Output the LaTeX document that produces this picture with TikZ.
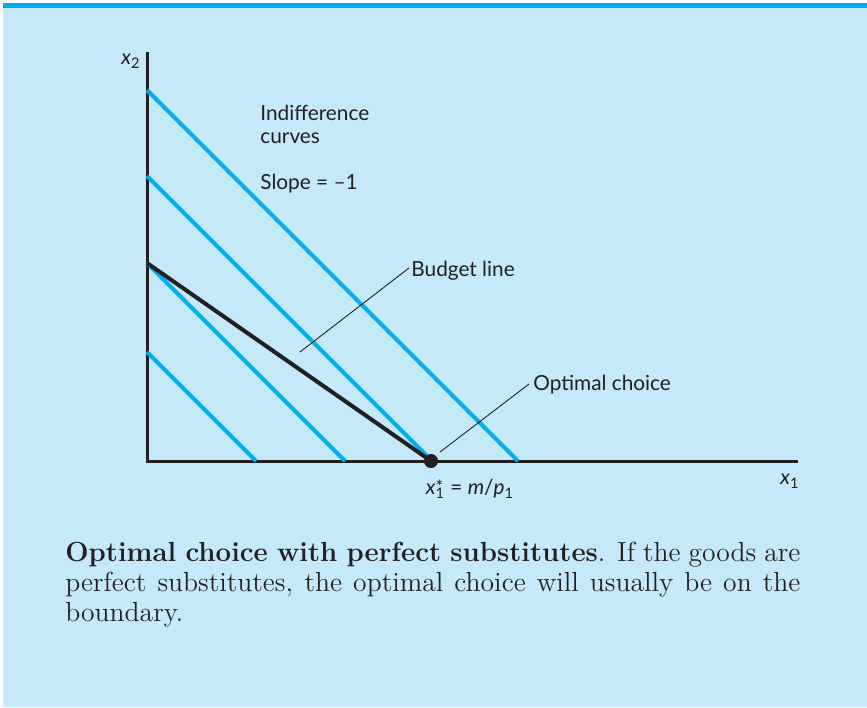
\documentclass[tikz,border=0pt]{standalone}
\usepackage{fontspec}
\newfontfamily\labelfont{Lato}
\usetikzlibrary{positioning}
\definecolor{panelBlue}{HTML}{C6E9F9}
\definecolor{barCyan}{HTML}{00AEEF}
\definecolor{curveCyan}{HTML}{00AEEF}
\definecolor{inkBlack}{HTML}{231F20}
\tikzset{
  axis/.style   = {draw=inkBlack, line width=1.5pt},
  icurve/.style = {draw=curveCyan, line width=2pt},
  budget/.style = {draw=inkBlack, line width=2pt},
  leader/.style = {draw=inkBlack, line width=0.45pt},
  dot/.style    = {circle, fill=inkBlack, minimum size=7pt, inner sep=0pt},
  lbl/.style    = {font=\labelfont\fontsize{10.4}{11.5}\selectfont, text=inkBlack, inner sep=0pt},
  captext/.style = {font=\fontsize{13.8}{15}\selectfont, text=inkBlack, text width=367.5pt, align=justify, inner sep=0pt}
}
\newcommand{\xv}[1]{\textit{x}\textsubscript{#1}}

\begin{document}
\begin{tikzpicture}[x=0.5pt, y=-0.5pt]
  \useasboundingbox (0,0) rectangle (867,707);
  % panel
  \fill[white] (0,0) rectangle (867,707);
  \fill[panelBlue] (3,3) rectangle (867,707);
  \fill[barCyan] (3,3) rectangle (867,7.5);

  % axes
  \coordinate (O) at (147,461);
  \coordinate (ytop) at (147,52);
  \coordinate (xend) at (798,461);
  \draw[axis] (ytop) -- (O) -- (xend);
  \node[lbl, anchor=east] (x2lbl) at (141,61) {\xv{2}};
  \node[lbl] (x1lbl) at (790,481) {\xv{1}};

  % indifference curves, slope -1
  \foreach \c in {352,263,176,90}
    \draw[icurve] (147,\c) -- ({147+461-\c},461);

  % budget line
  \coordinate (bA) at (147,263);
  \node[dot] (opt) at (431,461) {};
  \draw[budget] (bA) -- (opt.center);

  % labels
  \node[lbl, anchor=north west, align=left] (iclbl) at (260,105) {Indifference\\curves};
  \node[lbl, anchor=base west] (slopelbl) at (260,189) {Slope = –1};
  \node[lbl, anchor=west] (budgetlbl) at (411,271) {Budget line};
  \node[lbl, anchor=west] (optlbl) at (533,385) {Optimal choice};
  \node[lbl] (xstar) at (470,489)
    {\textit{x}\rlap{\raisebox{0.15ex}{\fontsize{9}{9}\selectfont *}}\textsubscript{1} = \textit{m}/\textit{p}\textsubscript{1}};

  % leaders
  \coordinate (bpt) at (300,352);
  \coordinate (optpt) at (440,452);
  \draw[leader] (bpt) -- ([xshift=-1pt,yshift=1.5pt]budgetlbl.west);
  \draw[leader] (optpt) -- ([xshift=-2pt,yshift=0.5pt]optlbl.west);

  % caption
  \node[captext, anchor=north west] (caption) at (65,542)
    {\textbf{Optimal choice with perfect substitutes}. If the goods are perfect substitutes, the optimal choice will usually be on the boundary.};
\end{tikzpicture}
\end{document}
